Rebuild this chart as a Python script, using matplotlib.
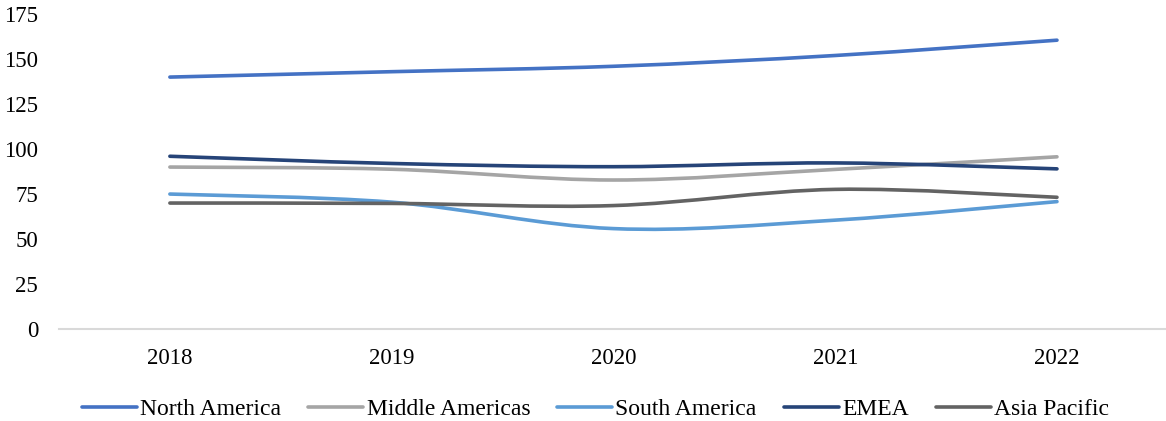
import numpy as np
import matplotlib.pyplot as plt
from matplotlib.path import Path
from matplotlib.patches import PathPatch
from matplotlib.lines import Line2D

plt.rcParams['font.family'] = ['Liberation Serif', 'DejaVu Serif']

years = ["2018", "2019", "2020", "2021", "2022"]
north_america = [140, 143, 146, 152, 160.5]
middle_americas = [90, 88.8, 82.8, 88.7, 95.7]
south_america = [75, 70.5, 55.8, 60.5, 70.8]
emea = [96, 92, 90.2, 92.3, 89]
asia_pacific = [70, 69.8, 68.6, 77.6, 73.2]

series = [
    ("North America", north_america, "#4472C4"),
    ("Middle Americas", middle_americas, "#A5A5A5"),
    ("South America", south_america, "#5B9BD5"),
    ("EMEA", emea, "#264478"),
    ("Asia Pacific", asia_pacific, "#636363"),
]


def smooth_path(xs, ys):
    # cubic bezier through each point, catmull-rom style tangents
    pts = np.column_stack([xs, ys]).astype(float)
    ext = np.vstack([pts[0], pts, pts[-1]])
    verts = [pts[0]]
    codes = [Path.MOVETO]
    for i in range(len(pts) - 1):
        p0, p1, p2, p3 = ext[i], ext[i + 1], ext[i + 2], ext[i + 3]
        c1 = p1 + (p2 - p0) / 6.0
        c2 = p2 - (p3 - p1) / 6.0
        verts += [c1, c2, p2]
        codes += [Path.CURVE4] * 3
    return Path(verts, codes)


fig = plt.figure(figsize=(11.66, 4.21), dpi=100)
ax = fig.add_axes([0.0506, 0.2185, 0.951, 0.748])

x = np.arange(len(years))
handles = []
for name, vals, col in series:
    patch = PathPatch(smooth_path(x, vals), facecolor="none", edgecolor=col,
                      lw=2.6, capstyle="round", joinstyle="round")
    ax.add_patch(patch)
    handles.append(Line2D([], [], color=col, lw=2.6, solid_capstyle="round"))

ax.set_xlim(-0.5, len(years) - 0.5)
ax.set_ylim(0, 175)
ax.set_yticks(np.arange(0, 176, 25))
ax.set_xticks(x)
ax.set_xticklabels(years)
ax.tick_params(axis="both", length=0, labelsize=16.5, colors="black")
ax.tick_params(axis="x", pad=14)
ax.tick_params(axis="y", pad=15)

for s in ["top", "right", "left"]:
    ax.spines[s].set_visible(False)
ax.spines["bottom"].set_color("#D9D9D9")
ax.spines["bottom"].set_linewidth(1.5)

fig.legend(handles, [s[0] for s in series], loc="center", ncol=5,
           bbox_to_anchor=(0.5107, 0.0285), frameon=False, fontsize=17,
           handlelength=2.33, handletextpad=0.13, columnspacing=1.15)

fig.savefig("out.png", dpi=100)
